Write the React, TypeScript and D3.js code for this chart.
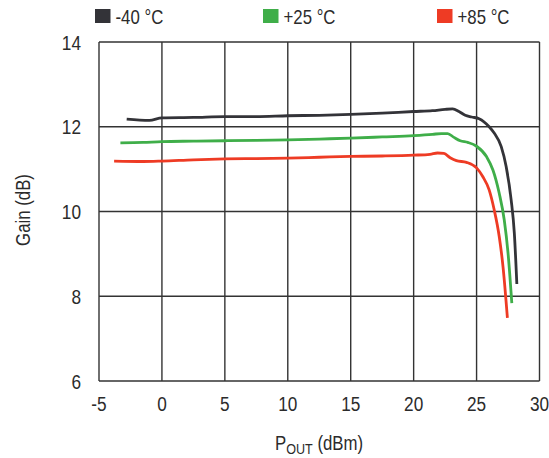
import React from "react";
import * as d3 from "d3";

const xTicks = [-5, 0, 5, 10, 15, 20, 25, 30];
const yTicks = [6, 8, 10, 12, 14];

const seriesNames = ["-40 °C", "+25 °C", "+85 °C"];
const seriesColors = ["#333338", "#3fae49", "#ee3b24"];

const coldX = [-2.8, -1.0, 0, 2.5, 5, 7.5, 10, 12.5, 15, 17.5, 20, 21.5, 22.5, 23.1, 23.6, 24.1, 24.6, 25.2, 26, 26.4, 26.96, 27.35, 27.75, 28.0, 28.2];
const coldY = [12.18, 12.15, 12.21, 12.22, 12.24, 12.24, 12.26, 12.27, 12.29, 12.32, 12.36, 12.38, 12.41, 12.42, 12.36, 12.27, 12.23, 12.19, 12.0, 11.85, 11.53, 11.06, 10.27, 9.49, 8.29];

const roomX = [-3.3, -1.5, 0, 2.5, 5, 7.5, 10, 12.5, 15, 17.5, 20, 21.5, 22.2, 22.7, 23.2, 23.7, 24.3, 25, 25.8, 26.3, 26.8, 27.2, 27.5, 27.8];
const roomY = [11.62, 11.63, 11.65, 11.66, 11.67, 11.68, 11.69, 11.71, 11.73, 11.76, 11.79, 11.82, 11.84, 11.84, 11.75, 11.67, 11.63, 11.54, 11.29, 10.98, 10.43, 9.80, 9.02, 7.84];

const hotX = [-3.8, -1.5, 0, 2.5, 5, 7.5, 10, 12.5, 15, 17.5, 20, 21.3, 21.9, 22.4, 22.9, 23.4, 24.2, 25.0, 25.5, 26, 26.4, 26.8, 27.1, 27.45];
const hotY = [11.19, 11.18, 11.19, 11.22, 11.24, 11.25, 11.26, 11.28, 11.30, 11.31, 11.33, 11.35, 11.38, 11.37, 11.27, 11.20, 11.16, 11.03, 10.82, 10.51, 10.04, 9.41, 8.70, 7.49];

const seriesX = [coldX, roomX, hotX];
const seriesY = [coldY, roomY, hotY];

const W = 549;
const H = 458;
const L = 99;
const R = 539.5;
const T = 42;
const B = 381;

const FONT = "'Liberation Sans', Arial, sans-serif";
const SX = 0.84;
const TXT = "#2b2b2b";

function CText(props: {
  x: number;
  y: number;
  size: number;
  anchor?: "start" | "middle" | "end";
  rotate?: number;
  children: React.ReactNode;
}) {
  const { x, y, size, anchor = "start", rotate = 0, children } = props;
  return (
    <g transform={`translate(${x},${y}) rotate(${rotate}) scale(${SX},1)`}>
      <text x={0} y={0} textAnchor={anchor} fontSize={size} fill={TXT}>
        {children}
      </text>
    </g>
  );
}

export default function App() {
  const x = d3.scaleLinear().domain([-5, 30]).range([L, R]);
  const y = d3.scaleLinear().domain([6, 14]).range([B, T]);
  const line = d3
    .line<[number, number]>()
    .x((d) => x(d[0]))
    .y((d) => y(d[1]))
    .curve(d3.curveMonotoneX);

  const legendX = [95, 263, 437];

  return (
    <svg
      width={W}
      height={H}
      style={{ position: "absolute", left: 0, top: 0, background: "#fff" }}
      fontFamily={FONT}
    >
      {xTicks.map((t) => (
        <line key={"gx" + t} x1={x(t)} x2={x(t)} y1={T} y2={B} stroke="#333" strokeWidth={1.4} />
      ))}
      {yTicks.map((t) => (
        <line key={"gy" + t} x1={L} x2={R} y1={y(t)} y2={y(t)} stroke="#333" strokeWidth={1.4} />
      ))}
      {seriesX.map((xs, i) => (
        <path
          key={"s" + i}
          d={line(xs.map((v, j) => [v, seriesY[i][j]] as [number, number])) || ""}
          fill="none"
          stroke={seriesColors[i]}
          strokeWidth={2.8}
          strokeLinejoin="round"
          strokeLinecap="butt"
        />
      ))}
      {xTicks.map((t) => (
        <CText key={"tx" + t} x={x(t)} y={410.5} size={20.5} anchor="middle">
          {t}
        </CText>
      ))}
      {yTicks.map((t) => (
        <CText key={"ty" + t} x={81} y={y(t) + 7.5} size={20.5} anchor="end">
          {t}
        </CText>
      ))}
      <CText x={30} y={210} size={20} anchor="middle" rotate={-90}>
        Gain (dB)
      </CText>
      <CText x={319} y={450} size={20} anchor="middle">
        P<tspan fontSize={15} dy={4}>OUT</tspan>
        <tspan dy={-4}> (dBm)</tspan>
      </CText>
      {seriesNames.map((n, i) => (
        <g key={"lg" + i}>
          <rect x={legendX[i]} y={9} width={15.5} height={14} fill={seriesColors[i]} />
          <CText x={legendX[i] + 20.5} y={24} size={20}>
            {n}
          </CText>
        </g>
      ))}
    </svg>
  );
}
